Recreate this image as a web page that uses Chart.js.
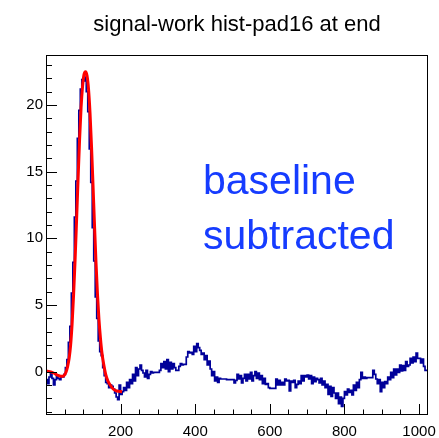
<!DOCTYPE html>
<html>
<head>
<meta charset="utf-8">
<script src="https://cdn.jsdelivr.net/npm/chart.js@4.4.1/dist/chart.umd.min.js"></script>
<style>
  html, body { margin: 0; padding: 0; background: #ffffff; }
  #c { display: block; }
</style>
</head>
<body>
<canvas id="c" width="439" height="438"></canvas>
<script>
// ---- data ----
const titleText = 'signal-work hist-pad16 at end';
const annotationLines = ['baseline', 'subtracted'];

const binWidth = 4;          // histogram bin width (x units), bins start at 0
const binValues = [
  // 0 .. 52
  -0.2, -0.6, -0.9, -0.4, -0.1, -0.5, -1.0, -0.6, -0.3, -0.5, -0.6, -0.4, -0.4, -0.2,
  // 56 .. 204
  0.3, 0.9, 2.2, 3.4, 5.9, 8.2, 11.6, 14.3, 17.5, 19.6,
  21.2, 21.9, 21.8, 22.1, 21.0, 19.5, 16.7, 14.2, 10.8, 8.3,
  5.6, 4.0, 2.3, 1.5, 1.2, 0.3, -0.3, -0.8, -0.9, -1.2,
  -1.0, -1.1, -1.3, -1.6, -1.9, -2.1, -1.0, -1.7,
  // 208 .. 408
  -1.5, -1.2, -1.4, -0.8, -1.2, -0.6, -0.9, -0.2, -0.7, 0.3,
  -0.3, 0.2, 0.5, 0.1, -0.1, -0.4, 0.1, -0.5, -0.2, 0.0,
  -0.1, -0.05, -0.05, -0.05, -0.05, 0.1, 0.6, 0.3, 0.75, 0.2,
  0.9, 0.0, 0.7, 0.2, 0.6, 0.3, 0.1, 0.1, 0.4, 0.6,
  0.5, 0.55, 0.55, 1.1, 1.5, 1.4, 1.45, 1.3, 1.9, 1.5,
  2.1,
  // 412 .. 604
  1.8, 1.6, 1.3, 1.4, 0.9, 1.2, 0.5, 0.8, 0.2, -0.3,
  0.0, -0.7, -0.4, -0.8, -0.5, -0.55, -0.55, -0.55, -0.55, -0.6,
  -0.6, -0.6, -0.6, -0.6, -0.85, -0.65, -0.2, -0.55, -0.3, -0.85,
  -0.5, -0.2, -0.7, -0.2, -0.55, -0.05, -0.7, -0.3, 0.0, -0.5,
  -0.1, -0.6, -0.3, -0.9, -0.5, -0.95, -0.9, -1.2, -1.25,
  // 608 .. 808
  -1.25, -1.25, -1.25, -0.55, -1.0, -0.65, -1.0, -0.8, -1.0, -0.55,
  -0.7, -0.65, -1.45, -0.7, -0.8, -0.65, -1.2, -0.95, -0.7, -0.9,
  -0.3, -0.7, -0.3, -0.4, -0.25, -0.55, -0.3, -0.9, -0.4, -0.75,
  -0.5, -0.6, -0.85, -0.5, -1.0, -0.7, -1.2, -0.95, -1.7, -1.1,
  -1.85, -1.2, -1.6, -2.0, -1.6, -2.4, -1.9, -2.6, -2.0, -1.5,
  -1.75,
  // 812 .. 1020
  -1.3, -1.55, -1.4, -1.75, -1.0, -1.4, -0.8, -1.2, -0.6, -0.05,
  -0.5, -0.4, -0.5, -0.45, -0.45, -0.45, -0.45, 0.1, -0.2, -0.55,
  -0.9, -0.6, -1.5, -0.8, -1.2, -0.75, -0.9, -0.4, -0.6, -0.05,
  -0.45, 0.2, -0.25, 0.2, -0.05, 0.5, 0.05, 0.45, 0.1, 0.75,
  0.4, 0.5, 1.0, 0.65, 1.1, 0.75, 1.4, 1.0, 1.0, 0.65,
  0.95, 0.4, 0.1
];

const fitX = [0, 10, 20, 30, 40, 48, 54, 58, 62, 66, 70, 74, 78, 82, 86, 90, 94, 98, 102, 106,
              110, 114, 118, 122, 126, 130, 134, 138, 142, 146, 150, 155, 160, 166, 172, 180, 190, 204];
const fitY = [0.05, 0.0, -0.1, -0.25, -0.35, -0.3, 0.0, 0.4, 1.0, 2.0, 3.6, 5.8, 8.4, 11.4, 14.5, 17.4, 19.8, 21.4, 22.3, 22.5,
              22.2, 21.2, 19.4, 16.9, 14.0, 11.0, 8.2, 5.8, 3.9, 2.5, 1.4, 0.5, -0.2, -0.7, -1.0, -1.3, -1.45, -1.5];

const xRange = [0, 1024];
const yRange = [-3.25, 23.75];
const xTickLabels = [200, 400, 600, 800, 1000];
const yTickLabels = [0, 5, 10, 15, 20];
const xMinorStep = 50;
const yMinorStep = 1;

// ---- build datasets ----
const histPoints = binValues.map((v, i) => ({ x: i * binWidth, y: v }));
histPoints.push({ x: xRange[1], y: binValues[binValues.length - 1] });
const fitPoints = fitX.map((x, i) => ({ x: x, y: fitY[i] }));

const FONT = "'Liberation Sans', Arial, Helvetica, sans-serif";

const rootAxes = {
  id: 'rootAxes',
  afterDatasetsDraw(chart) {
    const ctx = chart.ctx;
    const a = chart.chartArea;
    const xs = chart.scales.x, ys = chart.scales.y;
    ctx.save();
    ctx.strokeStyle = '#000000';
    ctx.lineWidth = 1;
    ctx.beginPath();
    for (let v = xRange[0]; v <= xRange[1]; v += xMinorStep) {
      const px = Math.round(xs.getPixelForValue(v)) + 0.5;
      const len = (v % 200 === 0) ? 11 : 5.5;
      ctx.moveTo(px, a.bottom);
      ctx.lineTo(px, a.bottom - len);
    }
    for (let v = -3; v <= 23; v += yMinorStep) {
      const py = Math.round(ys.getPixelForValue(v)) + 0.5;
      const len = (v % 5 === 0) ? 11 : 6;
      ctx.moveTo(a.left, py);
      ctx.lineTo(a.left + len, py);
    }
    ctx.stroke();
    ctx.strokeRect(Math.round(a.left) + 0.5, Math.round(a.top) + 0.5,
                   Math.round(a.right - a.left) - 1, Math.round(a.bottom - a.top) - 1);
    ctx.restore();
  },
  afterDraw(chart) {
    const ctx = chart.ctx;
    const a = chart.chartArea;
    ctx.save();
    ctx.fillStyle = 'rgb(22,60,255)';
    ctx.font = '41px ' + FONT;
    ctx.textAlign = 'left';
    ctx.textBaseline = 'alphabetic';
    ctx.fillText(annotationLines[0], a.left + 157, a.top + 139);
    ctx.fillText(annotationLines[1], a.left + 157, a.top + 194);
    ctx.restore();
  }
};

new Chart(document.getElementById('c'), {
  type: 'line',
  data: {
    datasets: [
      {
        label: 'fit',
        data: fitPoints,
        borderColor: '#ff0000',
        borderWidth: 3,
        pointRadius: 0,
        fill: false,
        tension: 0.4,
        cubicInterpolationMode: 'monotone'
      },
      {
        label: 'hist',
        data: histPoints,
        stepped: 'after',
        borderColor: '#000099',
        borderWidth: 1.7,
        pointRadius: 0,
        fill: false,
        tension: 0
      }
    ]
  },
  options: {
    responsive: false,
    animation: false,
    devicePixelRatio: 1,
    layout: { padding: { left: 0, right: 11, top: 0, bottom: 0 } },
    plugins: {
      legend: { display: false },
      tooltip: { enabled: false },
      title: {
        display: true,
        text: titleText,
        fullSize: false,
        color: '#000000',
        font: { family: FONT, size: 22, weight: 'normal', lineHeight: 1.2 },
        padding: { top: 12, bottom: 16.6 }
      }
    },
    scales: {
      x: {
        type: 'linear',
        min: xRange[0],
        max: xRange[1],
        grid: { display: false, drawTicks: false },
        border: { display: false },
        afterBuildTicks: s => { s.ticks = xTickLabels.map(v => ({ value: v })); },
        afterFit: s => { s.height = 23; s.paddingLeft = 0; s.paddingRight = 0; },
        ticks: {
          color: '#000000',
          font: { family: FONT, size: 15 },
          padding: 8,
          maxRotation: 0,
          autoSkip: false,
          callback: v => String(v)
        }
      },
      y: {
        type: 'linear',
        min: yRange[0],
        max: yRange[1],
        grid: { display: false, drawTicks: false },
        border: { display: false },
        afterBuildTicks: s => { s.ticks = yTickLabels.map(v => ({ value: v })); },
        afterFit: s => { s.width = 46; s.paddingTop = 0; s.paddingBottom = 0; },
        ticks: {
          color: '#000000',
          font: { family: FONT, size: 15 },
          padding: 3,
          autoSkip: false,
          callback: v => String(v)
        }
      }
    }
  },
  plugins: [rootAxes]
});
</script>
</body>
</html>
